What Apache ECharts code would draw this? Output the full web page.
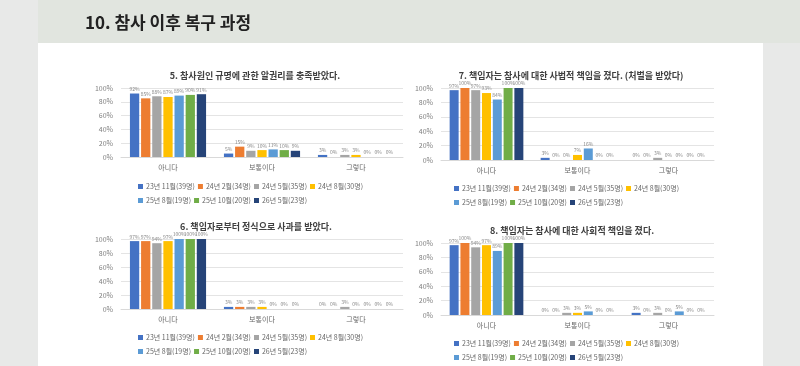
<!DOCTYPE html>
<html>
<head>
<meta charset="utf-8">
<script src="https://cdn.jsdelivr.net/npm/echarts@6/dist/echarts.min.js"></script>
<style>
  html, body { margin: 0; padding: 0; background: #e8e9e8; }
  #main { width: 800px; height: 366px; }
</style>
</head>
<body>
<div id="main"></div>
<script>
// categories and series
var categories = ['아니다', '보통이다', '그렇다'];
var seriesNames = ['23년 11월(39명)', '24년 2월(34명)', '24년 5월(35명)', '24년 8월(30명)',
                   '25년 8월(19명)', '25년 10월(20명)', '26년 5월(23명)'];
var colors = ['#4472C4', '#ED7D31', '#A5A5A5', '#FFC000', '#5B9BD5', '#70AD47', '#264478'];

// values in %, one row per series: [아니다, 보통이다, 그렇다]
var q5 = [[92, 5, 3], [85, 15, 0], [88, 9, 3], [87, 10, 3], [89, 11, 0], [90, 10, 0], [91, 9, 0]];
var q6 = [[97, 3, 0], [97, 3, 0], [94, 3, 3], [97, 3, 0], [100, 0, 0], [100, 0, 0], [100, 0, 0]];
var q7 = [[97, 3, 0], [100, 0, 0], [97, 0, 3], [93, 7, 0], [84, 16, 0], [100, 0, 0], [100, 0, 0]];
var q8 = [[97, 0, 3], [100, 0, 0], [94, 3, 3], [97, 3, 0], [89, 5, 5], [100, 0, 0], [100, 0, 0]];

var titles5 = '5. 참사원인 규명에 관한 알권리를 충족받았다.';
var titles6 = '6. 책임자로부터 정식으로 사과를 받았다.';
var titles7 = '7. 책임자는 참사에 대한 사법적 책임을 졌다. (처벌을 받았다)';
var titles8 = '8. 책임자는 참사에 대한 사회적 책임을 졌다.';

var FONT = '"Noto Sans CJK KR", "Noto Sans", sans-serif';

// panel layout
var panels = [
  {data: q5, title: titles5, tx: 250, ty: 66, grid: {left: 121, top: 88, width: 282, height: 69}, lx: 138, ly: 183},
  {data: q6, title: titles6, tx: 251, ty: 217, grid: {left: 121, top: 239, width: 282, height: 70}, lx: 138, ly: 334},
  {data: q7, title: titles7, tx: 566, ty: 66, grid: {left: 441, top: 88, width: 273, height: 72}, lx: 454, ly: 185},
  {data: q8, title: titles8, tx: 567, ty: 221, grid: {left: 441, top: 243, width: 273, height: 72}, lx: 454, ly: 340}
];

var option = {
  animation: false,
  backgroundColor: '#e8e9e8',
  textStyle: {fontFamily: FONT},
  graphic: [
    {type: 'rect', shape: {x: 38, y: 0, width: 762, height: 43}, style: {fill: '#e1e5df'}, z: -10},
    {type: 'rect', shape: {x: 38, y: 43, width: 725, height: 323}, style: {fill: '#ffffff'}, z: -10},
    {type: 'text', left: 85, top: 14, style: {text: '10. 참사 이후 복구 과정', font: 'bold 17px ' + FONT, fill: '#222222'}}
  ],
  title: [],
  legend: [],
  grid: [],
  xAxis: [],
  yAxis: [],
  series: []
};

panels.forEach(function (p, i) {
  option.title.push({
    text: p.title, left: p.tx, top: p.ty, textAlign: 'center',
    textStyle: {fontSize: 9, fontWeight: 'bold', color: '#404040', fontFamily: FONT}
  });
  option.grid.push(p.grid);
  option.xAxis.push({
    type: 'category', gridIndex: i, data: categories,
    axisLine: {lineStyle: {color: '#d9d9d9'}}, axisTick: {show: false},
    axisLabel: {fontSize: 7, color: '#666666', margin: 7}
  });
  option.yAxis.push({
    type: 'value', gridIndex: i, min: 0, max: 100, interval: 20,
    axisLine: {show: false}, axisTick: {show: false},
    splitLine: {lineStyle: {color: '#e4e4e4'}},
    axisLabel: {fontSize: 7, color: '#808080', margin: 8, formatter: '{value}%'}
  });
  // legend: two rows
  [[0, 4], [4, 7]].forEach(function (r, k) {
    option.legend.push({
      left: p.lx, top: p.ly + k * 14, padding: 0, data: seriesNames.slice(r[0], r[1]),
      itemWidth: 5, itemHeight: 5, itemGap: 3, icon: 'rect',
      textStyle: {fontSize: 7, color: '#666666', padding: [0, 0, 0, -2]},
      selectedMode: false
    });
  });
  seriesNames.forEach(function (name, s) {
    option.series.push({
      name: name, type: 'bar', xAxisIndex: i, yAxisIndex: i,
      data: p.data[s],
      itemStyle: {color: colors[s]},
      barGap: '20%', barCategoryGap: '19%',
      label: {show: true, position: 'top', distance: 2, fontSize: 5, color: '#888888', formatter: '{c}%'}
    });
  });
});

var myChart = echarts.init(document.getElementById('main'));
myChart.setOption(option);
</script>
</body>
</html>
